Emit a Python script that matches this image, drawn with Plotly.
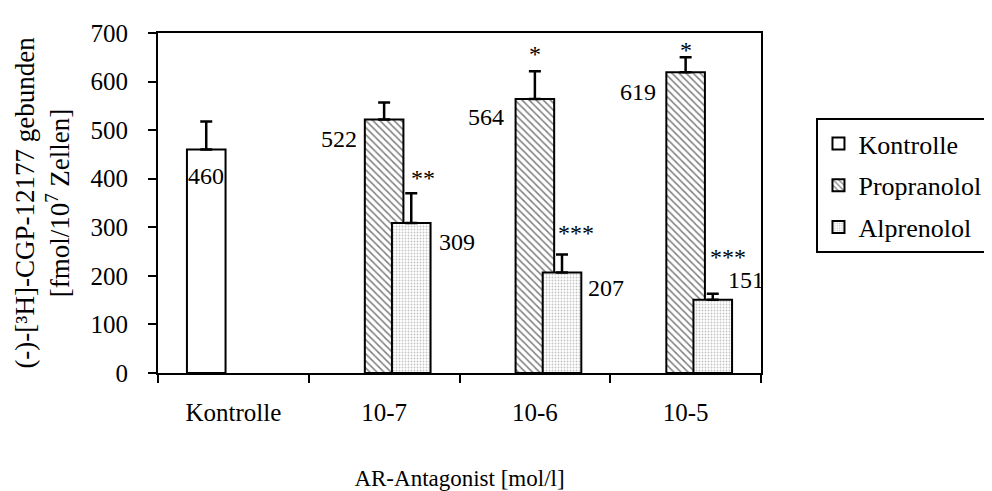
import plotly.graph_objects as go

categories = ["Kontrolle", "10-7", "10-6", "10-5"]
kontrolle = [460, None, None, None]
kontrolle_err = [58, 0, 0, 0]
propranolol = [None, 522, 564, 619]
propranolol_err = [0, 35, 57, 31]
alprenolol = [None, 309, 207, 151]
alprenolol_err = [0, 61, 37, 12]
propranolol_sig = ["", "", "*", "*"]
alprenolol_sig = ["", "**", "***", "***"]

FONT = "Liberation Serif"
W = 0.256
CENTER = {"Kontrolle": -0.18, "Propranolol": 0.0, "Alprenolol": 0.18}

series = [
    ("Kontrolle", kontrolle, kontrolle_err, dict(shape="", bgcolor="white")),
    ("Propranolol", propranolol, propranolol_err,
     dict(shape="\\", fgcolor="black", bgcolor="white", size=5, solidity=0.3)),
    ("Alprenolol", alprenolol, alprenolol_err,
     dict(shape=".", fgcolor="#8a8a8a", bgcolor="white", size=3, solidity=0.3)),
]

fig = go.Figure()
for name, vals, errs, pat in series:
    fig.add_trace(go.Bar(
        name=name, x=categories, y=vals,
        width=W, offset=CENTER[name] - W / 2,
        marker=dict(color="white", line=dict(color="black", width=2), pattern=pat),
        error_y=dict(type="data", array=errs, arrayminus=[0] * len(errs), symmetric=False,
                     color="black", thickness=2.5, width=6),
        legendgroup=name,
    ))

ann = []
# value-label placement: (series, index) -> (bar side, xanchor, xshift px, yshift px)
label_style = {
    ("Kontrolle", 0): ("center", "center", 0, -26),
    ("Propranolol", 1): ("left", "right", -6, -20),
    ("Propranolol", 2): ("left", "right", -10, -18),
    ("Propranolol", 3): ("left", "right", -8, -20),
    ("Alprenolol", 1): ("right", "left", 6, -19),
    ("Alprenolol", 2): ("right", "left", 5, -16),
    ("Alprenolol", 3): ("right", "left", -6, 20),
}
vals_by = {"Kontrolle": kontrolle, "Propranolol": propranolol, "Alprenolol": alprenolol}
errs_by = {"Kontrolle": kontrolle_err, "Propranolol": propranolol_err, "Alprenolol": alprenolol_err}
for (name, i), (side, xa, xs, ys) in label_style.items():
    v = vals_by[name][i]
    xc = i + CENTER[name]
    x = xc + (-W / 2 if side == "left" else W / 2 if side == "right" else 0)
    ann.append(dict(x=x, y=v, xref="x", yref="y", text=str(v), showarrow=False,
                    xanchor=xa, yanchor="middle", xshift=xs, yshift=ys,
                    font=dict(family=FONT, size=24, color="black")))

sig_shift = {
    ("Propranolol", 2): (0, 17), ("Propranolol", 3): (0, 7),
    ("Alprenolol", 1): (12, 15), ("Alprenolol", 2): (14, 21), ("Alprenolol", 3): (15, 37),
}
sig_by = {"Propranolol": propranolol_sig, "Alprenolol": alprenolol_sig}
for (name, i), (xs, ys) in sig_shift.items():
    top = vals_by[name][i] + errs_by[name][i]
    ann.append(dict(x=i + CENTER[name], y=top, xref="x", yref="y", text=sig_by[name][i],
                    showarrow=False, xanchor="center", yanchor="middle", xshift=xs, yshift=ys,
                    font=dict(family=FONT, size=24, color="black")))

fig.update_layout(
    width=992, height=491,
    margin=dict(l=150, r=224, t=19, b=124),
    barmode="overlay",
    plot_bgcolor="white", paper_bgcolor="white",
    font=dict(family=FONT, size=25, color="black"),
    annotations=ann,
    showlegend=True,
    legend=dict(x=1.092, y=0.75, xanchor="left", yanchor="top",
                bgcolor="white", bordercolor="black", borderwidth=2,
                font=dict(family=FONT, size=26, color="black"),
                tracegroupgap=5, traceorder="grouped"),
    xaxis=dict(type="category", range=[-0.5, 3.5], showline=True, linecolor="black", linewidth=2,
               mirror=True, ticks="outside", tickson="boundaries", ticklen=8, tickwidth=2,
               tickcolor="black", showgrid=False, ticklabelstandoff=16,
               tickfont=dict(family=FONT, size=25),
               title=dict(text="AR-Antagonist [mol/l]", standoff=45,
                          font=dict(family=FONT, size=23))),
    yaxis=dict(range=[0, 700], dtick=100, showline=True, linecolor="black", linewidth=2,
               mirror=True, ticks="outside", ticklen=8, tickwidth=2, tickcolor="black",
               showgrid=False, zeroline=False, ticklabelstandoff=15,
               tickfont=dict(family=FONT, size=25),
               title=dict(text="(-)-[³H]-CGP-12177 gebunden<br>[fmol/10<sup>7</sup> Zellen]",
                          standoff=13, font=dict(family=FONT, size=27))),
)

fig.write_html("out.html")
